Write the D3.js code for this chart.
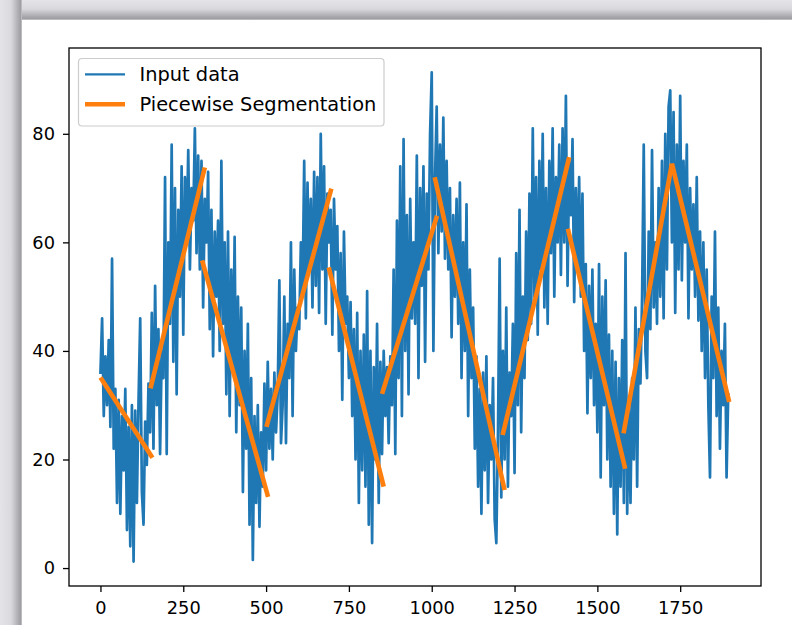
<!DOCTYPE html>
<html><head><meta charset="utf-8">
<script src="https://cdn.jsdelivr.net/npm/d3@7"></script>
<style>html,body{margin:0;padding:0;background:#fff;overflow:hidden}svg{display:block}</style>
</head><body>
<svg id="c" width="792" height="625"></svg>
<script>
// ---- data ----
const sampleStep = 5;              // one value per 5 samples of the original series
const sampleExtent = [0, 1899];    // original sample index range
const inputValues = [
  36, 46, 28, 39, 30, 42, 26, 57, 22, 33,
  12, 31, 10, 28, 18, 33, 7, 26, 4, 30,
  1.2, 29, 12, 31, 46, 14, 8, 27, 19, 34,
  25, 47, 22, 52, 30, 44, 21, 40, 35, 72,
  21, 60, 45, 78, 38, 70, 32, 66, 50, 74,
  43, 72, 60, 77, 55, 70, 64, 81, 58, 76,
  55, 75, 48, 68, 60, 73, 44, 66, 39, 62,
  50, 64, 40, 75, 45, 60, 32, 62, 28, 55,
  36, 61, 25, 50, 30, 48, 14, 40, 22, 45,
  8, 35, 1.5, 28, 12, 30, 7.6, 25, 15, 34,
  18, 38, 22, 33, 20, 36, 25, 32, 53, 23,
  30, 50, 23, 45, 35, 60, 28, 55, 40, 48,
  44, 60, 50, 75, 46, 71, 55, 68, 48, 73,
  52, 72, 47, 80, 55, 74, 45, 69, 60, 66,
  43, 68, 55, 63, 40, 58, 31, 62, 45, 50,
  35, 49, 28, 44, 20, 47, 12, 40, 18, 43,
  15, 51, 8, 40, 4.6, 37, 20, 45, 12, 38,
  21, 40, 28, 37, 23, 39, 30, 55, 21, 64,
  35, 74, 28, 79, 40, 65, 32, 68, 46, 60,
  45, 76, 35, 70, 52, 74, 38, 69, 55, 80,
  91.3, 40, 72, 85, 58, 78, 62, 83, 57, 75,
  55, 70, 42.5, 65, 50, 68, 45, 71, 35, 60,
  40, 67, 28, 55, 35, 48, 22, 39, 15, 33,
  10, 36, 18, 39, 12, 30, 20, 35, 9, 4.6,
  25, 57, 13, 40, 20, 48, 15, 36, 28, 45,
  17.5, 58, 30, 66, 25, 50, 35, 62, 42, 69,
  45, 81, 50, 72, 43, 75, 55, 80, 48, 70,
  45, 75, 58, 81, 50, 72, 60, 78, 54, 81,
  60, 87, 52, 75, 65, 79, 49, 70, 55, 72,
  50, 69, 40, 56, 28.5, 52, 35, 55, 30, 45,
  25, 56, 16.7, 50, 30, 53, 20, 43, 15, 40,
  10, 38, 6.2, 35, 15, 42, 12, 58, 10, 30,
  12, 35, 20, 48, 15, 44, 34, 50, 78, 40,
  35, 62, 44, 77, 48, 60, 45, 70, 50, 75,
  46, 80, 55, 85, 88, 60, 84, 47, 78, 55,
  87, 53, 75, 60, 78, 46, 70, 55, 67, 50,
  72, 45.6, 62, 40, 60, 35, 55, 30, 16.7, 50,
  35, 62, 28, 48, 22, 40, 30, 45, 16.7, 32
];
const segStartX = [0, 151, 307, 501, 689, 850, 1009, 1214, 1411, 1579, 1725];
const segStartY = [35.1, 33.1, 56.7, 26.0, 55.4, 32.1, 72.0, 24.5, 62.5, 24.8, 74.5];
const segEndX   = [157, 315, 506, 697, 855, 1016, 1220, 1415, 1584, 1725, 1898];
const segEndY   = [20.3, 73.8, 13.1, 69.9, 15.0, 64.9, 14.4, 75.7, 18.3, 74.5, 30.6];
const xTicks = [0, 250, 500, 750, 1000, 1250, 1500, 1750];
const yTicks = [0, 20, 40, 60, 80];
const legendLabels = ["Input data", "Piecewise Segmentation"];

// ---- layout ----
const W = 792, H = 625;
const fig = {x: 22, y: 20};
const ax = {left: 69, top: 48, right: 761, bottom: 586};
const blue = "#1f77b4", orange = "#ff7f0e";
const font = "'DejaVu Sans', sans-serif";
const fsTick = 17.8, fsLegend = 19.4;

const svg = d3.select("#c");
const defs = svg.append("defs");
const gTop = defs.append("linearGradient").attr("id", "gt").attr("x1", 0).attr("y1", 0).attr("x2", 0).attr("y2", 1);
gTop.append("stop").attr("offset", "0").attr("stop-color", "#e4e3e8");
gTop.append("stop").attr("offset", "0.45").attr("stop-color", "#d9d8dd");
gTop.append("stop").attr("offset", "0.92").attr("stop-color", "#9e9da2");
gTop.append("stop").attr("offset", "1").attr("stop-color", "#c8c7cc");
const gLeft = defs.append("linearGradient").attr("id", "gl").attr("x1", 0).attr("y1", 0).attr("x2", 1).attr("y2", 0);
gLeft.append("stop").attr("offset", "0").attr("stop-color", "#e4e3e8");
gLeft.append("stop").attr("offset", "0.5").attr("stop-color", "#dad9de");
gLeft.append("stop").attr("offset", "0.93").attr("stop-color", "#a09fa4");
gLeft.append("stop").attr("offset", "1").attr("stop-color", "#c8c7cc");
defs.append("clipPath").attr("id", "clip").append("rect")
  .attr("x", ax.left).attr("y", ax.top).attr("width", ax.right - ax.left).attr("height", ax.bottom - ax.top);

svg.append("rect").attr("x", 0).attr("y", 0).attr("width", W).attr("height", fig.y).attr("fill", "url(#gt)");
svg.append("rect").attr("x", 0).attr("y", 0).attr("width", fig.x).attr("height", H).attr("fill", "url(#gl)");
svg.append("rect").attr("x", fig.x).attr("y", fig.y).attr("width", W - fig.x).attr("height", H - fig.y).attr("fill", "#fff");

// ---- scales ----
const pts = inputValues.map((v, i) => ({x: i * sampleStep, y: v}));
const xr = sampleExtent[1] - sampleExtent[0];
const x = d3.scaleLinear().domain([sampleExtent[0] - 0.05 * xr, sampleExtent[1] + 0.05 * xr]).range([ax.left, ax.right]);
const [ymin, ymax] = d3.extent(inputValues);
const yr = ymax - ymin;
const y = d3.scaleLinear().domain([ymin - 0.05 * yr, ymax + 0.05 * yr]).range([ax.bottom, ax.top]);

// ---- marks ----
const plot = svg.append("g").attr("clip-path", "url(#clip)");
plot.append("path").datum(pts)
  .attr("d", d3.line().x(d => x(d.x)).y(d => y(d.y)))
  .attr("fill", "none").attr("stroke", blue).attr("stroke-width", 2.7)
  .attr("stroke-linejoin", "round").attr("stroke-linecap", "square");

const segs = segStartX.map((s, i) => ({x0: s, y0: segStartY[i], x1: segEndX[i], y1: segEndY[i]}));
plot.selectAll("line.seg").data(segs).join("line").attr("class", "seg")
  .attr("x1", d => x(d.x0)).attr("y1", d => y(d.y0))
  .attr("x2", d => x(d.x1)).attr("y2", d => y(d.y1))
  .attr("stroke", orange).attr("stroke-width", 4.6).attr("stroke-linecap", "butt");

// ---- axes ----
const xAxis = svg.append("g").attr("transform", `translate(0,${ax.bottom})`)
  .call(d3.axisBottom(x).tickValues(xTicks).tickFormat(d3.format("d")).tickSize(6).tickPadding(9));
const yAxis = svg.append("g").attr("transform", `translate(${ax.left},0)`)
  .call(d3.axisLeft(y).tickValues(yTicks).tickFormat(d3.format("d")).tickSize(6).tickPadding(8));
[xAxis, yAxis].forEach(g => {
  g.select(".domain").remove();
  g.selectAll(".tick line").attr("stroke", "#000").attr("stroke-width", 1.3);
  g.selectAll(".tick text").attr("font-family", font).attr("font-size", fsTick).attr("fill", "#000");
});
svg.append("rect").attr("x", ax.left).attr("y", ax.top)
  .attr("width", ax.right - ax.left).attr("height", ax.bottom - ax.top)
  .attr("fill", "none").attr("stroke", "#000").attr("stroke-width", 1.3);

// ---- legend ----
const leg = svg.append("g");
leg.append("rect").attr("x", 78.5).attr("y", 58.5).attr("width", 305.5).attr("height", 67.5)
  .attr("rx", 3.5).attr("fill", "#fff").attr("fill-opacity", 0.8).attr("stroke", "#cccccc").attr("stroke-width", 1.2);
const legItems = legendLabels.map((t, i) => ({t, c: i ? orange : blue, w: i ? 4.6 : 2.2, cy: i ? 104.3 : 74.3}));
leg.selectAll("line").data(legItems).join("line")
  .attr("x1", 85).attr("x2", 125).attr("y1", d => d.cy).attr("y2", d => d.cy)
  .attr("stroke", d => d.c).attr("stroke-width", d => d.w);
leg.selectAll("text").data(legItems).join("text")
  .attr("x", 139.5).attr("y", d => d.cy).attr("dy", "0.35em")
  .attr("font-family", font).attr("font-size", fsLegend).attr("fill", "#000").text(d => d.t);
</script>
</body></html>
